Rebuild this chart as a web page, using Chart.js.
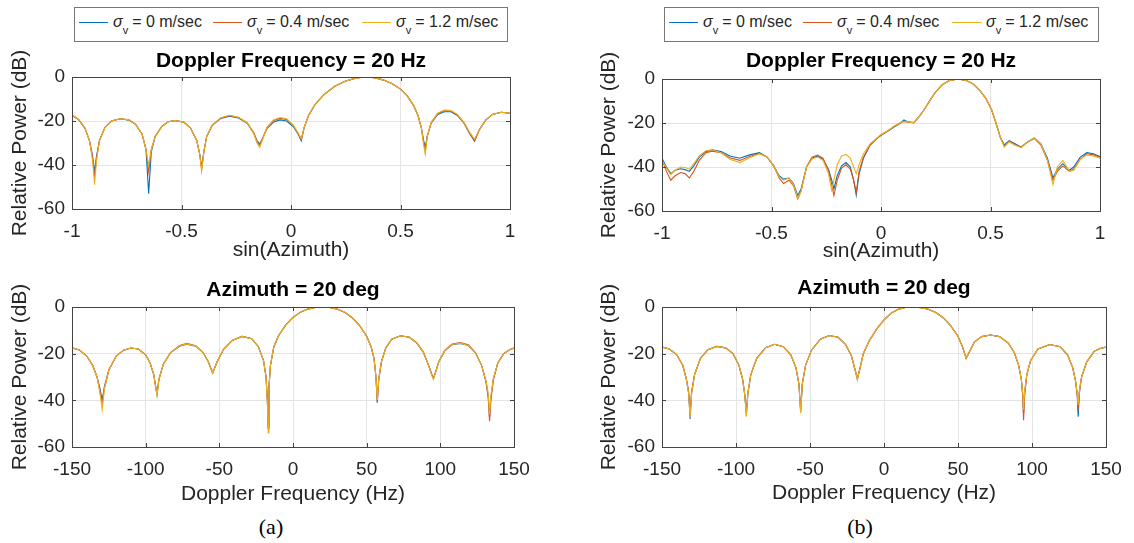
<!DOCTYPE html>
<html>
<head>
<meta charset="utf-8">
<script src="https://cdn.jsdelivr.net/npm/chart.js@4.4.1/dist/chart.umd.min.js"></script>
<style>
  body { margin: 0; width: 1134px; height: 543px; background: #fff; position: relative; overflow: hidden;
         font-family: 'Liberation Sans', Arial, sans-serif; }
  canvas { position: absolute; }
  .legend { position: absolute; height: 35px; border: 1px solid #777; box-sizing: border-box; background: #fff;
            font-size: 16px; color: #262626; }
  .legend .item { position: absolute; top: 0; height: 100%; white-space: nowrap; }
  .legend .swatch { position: absolute; left: 0; top: 14px; width: 29px; height: 0; border-top: 1px solid; }
  .legend .txt { position: absolute; left: 34px; top: 6px; line-height: 1; }
  .legend .txt sub { font-size: 11px; vertical-align: -7px; line-height: 0; margin-right: 4px; }
  .caption { position: absolute; font-family: 'Liberation Serif', 'Times New Roman', serif; font-size: 22px;
             color: #000; transform: translateX(-50%); line-height: 26px; }
</style>
</head>
<body>
<canvas id="azA" width="560" height="225" style="left:0;top:40px"></canvas>
<canvas id="dopA" width="560" height="240" style="left:0;top:270px"></canvas>
<canvas id="azB" width="567" height="225" style="left:567px;top:40px"></canvas>
<canvas id="dopB" width="567" height="240" style="left:567px;top:270px"></canvas>
<div class="caption" style="left:271px;top:514px">(a)</div>
<div class="caption" style="left:860px;top:514px">(b)</div>
<script>
// axis ticks
const AZ_TICKS = [-1, -0.5, 0, 0.5, 1];
const DOP_TICKS = [-150, -100, -50, 0, 50, 100, 150];
const POWER_TICKS = [-60, -40, -20, 0];

// series: velocity spread sigma_v (m/sec)
const SIGMA_V = ['0', '0.4', '1.2'];
const SERIES_COLORS = ['#0072BD', '#D95319', '#EDB120'];

// (a) Doppler = 20 Hz, power vs sin(azimuth)
const SIN_AZ_A = [-1.00, -0.97, -0.94, -0.92, -0.906, -0.897, -0.888, -0.875, -0.85, -0.82,
  -0.78, -0.74, -0.71, -0.68, -0.662, -0.65, -0.638, -0.62, -0.59, -0.56,
  -0.53, -0.49, -0.46, -0.43, -0.417, -0.408, -0.398, -0.385, -0.36, -0.32,
  -0.28, -0.24, -0.2, -0.17, -0.155, -0.143, -0.13, -0.11, -0.08, -0.05,
  -0.02, 0.01, 0.03, 0.047, 0.06, 0.08, 0.11, 0.15, 0.2, 0.25,
  0.3, 0.34, 0.38, 0.42, 0.46, 0.5, 0.53, 0.56, 0.58, 0.595,
  0.606, 0.613, 0.622, 0.64, 0.67, 0.7, 0.73, 0.76, 0.79, 0.815,
  0.838, 0.86, 0.89, 0.92, 0.96, 1.0];
const AZ_A_S0 = [-17.4, -19.4, -23.5, -29, -36, -43, -36, -29, -23, -20,
  -19, -19.6, -21.5, -26, -33, -53, -34, -27, -22.5, -20.3,
  -19.8, -20.5, -23, -29, -35, -41, -34, -27, -22, -18.8,
  -17.8, -18.6, -21, -25.5, -29, -30.5, -28, -23.5, -20.5, -19.5,
  -20, -22.5, -25.5, -29, -23, -17.5, -12.5, -8, -4.2, -1.8,
  -0.4, 0, -0.3, -1.3, -3, -5.5, -8.5, -13, -17.5, -23,
  -29, -32, -27, -21, -17, -15.8, -15.8, -17.5, -21, -25.5,
  -29.2, -24, -19.5, -17, -16, -16.5];
const AZ_A_S04 = [-17.2, -19.3, -23.3, -29, -37, -45, -37, -29, -23, -20,
  -19, -19.5, -21.4, -26, -33, -43, -33, -27, -22.5, -20.3,
  -19.8, -20.5, -23, -29, -35, -42, -34, -27, -22, -18.6,
  -17.5, -18.4, -20.8, -25.5, -29.5, -31, -28, -23, -19.8, -18.8,
  -19.3, -22, -25.2, -28.5, -23, -17.5, -12.5, -8, -4.2, -1.8,
  -0.4, 0, -0.3, -1.3, -3, -5.5, -8.5, -13, -17.5, -23,
  -30, -34, -27, -20.8, -16.6, -15.3, -15.4, -17.2, -20.8, -25.3,
  -28.8, -24, -19.5, -17, -16, -16.5];
const AZ_A_S12 = [-17.2, -19.3, -23.3, -29, -38, -49, -38, -29, -23, -20,
  -19, -19.5, -21.4, -26, -33, -40, -33, -27, -22.5, -20.3,
  -19.8, -20.5, -23, -29, -35, -43, -34, -27, -21.8, -18.5,
  -17.4, -18.3, -20.8, -25.8, -30, -32, -28.5, -23, -19.5, -18.4,
  -19, -21.8, -25, -28, -23, -17.5, -12.5, -8, -4.2, -1.8,
  -0.4, 0, -0.3, -1.3, -3, -5.5, -8.5, -13, -17.5, -23,
  -31, -35, -27, -20.6, -16.4, -15, -15.2, -17, -20.6, -25,
  -28.3, -24, -19.5, -17, -16, -16.5];

// (a) Azimuth = 20 deg, power vs Doppler frequency (Hz)
const DOP_A = [-150, -145, -140, -136, -133, -131, -129.5, -128, -125, -120,
  -115, -110, -105, -100, -97, -94.5, -93, -92.3, -91, -88,
  -83, -77, -72, -66, -61, -57.5, -54.5, -51.5, -47, -41,
  -34.5, -28, -23.5, -20, -18.3, -17.4, -16.9, -16.3, -15.3, -13,
  -10, -5, 0, 5, 10, 15, 20, 25, 30, 35,
  40, 45, 50, 53, 55, 56.3, 57.2, 58.2, 60, 63,
  67, 73, 79, 84, 88.5, 92, 94.2, 95.3, 96.5, 99,
  103, 108, 113.5, 119, 124, 128, 131, 132.5, 133.4, 134.3,
  136, 139, 143, 147, 150];
const DOP_A_S0 = [-17.5, -18.4, -21, -25, -30, -35, -40, -34, -27, -21,
  -18.5, -17.6, -18, -20.5, -24, -29, -35, -37.5, -31, -24.5,
  -19.5, -16.8, -16, -16.8, -19.5, -23.5, -28.4, -23.5, -18, -14.2,
  -12.6, -13.6, -17, -23, -30, -40, -52, -34, -25, -17,
  -12.5, -7.8, -4.5, -2.2, -0.9, -0.2, 0, -0.2, -0.9, -2.2,
  -4.5, -7.8, -12.5, -17, -22, -30, -41, -31, -23.5, -17.5,
  -13.8, -12.3, -13, -15.5, -19.5, -25, -29, -30.8, -28.5, -23.5,
  -18.8, -16.2, -15.6, -16.5, -19.8, -25, -32, -38, -47, -39,
  -31, -24, -20, -18.3, -17.6];
const DOP_A_S04 = [-17.5, -18.4, -21, -25, -30, -36, -41, -35, -27, -21,
  -18.5, -17.6, -18, -20.5, -24, -29, -35, -37, -31, -24.5,
  -19.5, -16.5, -15.6, -16.6, -19.5, -23.5, -28.2, -23.5, -18, -14.2,
  -12.6, -13.6, -17, -23, -30, -40, -51, -34, -25, -17,
  -12.5, -7.8, -4.5, -2.2, -0.9, -0.2, 0, -0.2, -0.9, -2.2,
  -4.5, -7.8, -12.5, -17, -22, -30, -40.5, -31, -23.5, -17.5,
  -13.8, -12.3, -13, -15.3, -19.3, -24.8, -28.8, -30.5, -28.3, -23.3,
  -18.6, -15.9, -15.2, -16.2, -19.6, -25, -32, -39, -49, -40,
  -31, -24, -20, -18.3, -17.6];
const DOP_A_S12 = [-17.5, -18.4, -21, -25, -30, -37, -44, -35, -27, -21,
  -18.5, -17.6, -18, -20.5, -24, -29, -35, -38, -31, -24.5,
  -19.5, -16.6, -15.8, -16.7, -19.5, -23.5, -28.4, -23.5, -18, -14.2,
  -12.6, -13.6, -17, -23, -30, -41, -54, -35, -25, -17,
  -12.5, -7.8, -4.5, -2.2, -0.9, -0.2, 0, -0.2, -0.9, -2.2,
  -4.5, -7.8, -12.5, -17, -22, -30, -40, -31, -23.5, -17.5,
  -13.8, -12.3, -13, -15.5, -19.5, -25, -29.3, -31, -28.6, -23.5,
  -18.8, -16.1, -15.5, -16.5, -19.8, -25, -31.5, -37, -46, -38,
  -30.5, -24, -20, -18.3, -17.6];

// (b) Doppler = 20 Hz, power vs sin(azimuth)
const SIN_AZ_B = [-1.0, -0.98, -0.96, -0.94, -0.915, -0.895, -0.875, -0.855, -0.83, -0.8,
  -0.77, -0.73, -0.69, -0.645, -0.6, -0.555, -0.52, -0.49, -0.465, -0.445,
  -0.42, -0.4, -0.38, -0.365, -0.34, -0.315, -0.29, -0.265, -0.24, -0.225,
  -0.215, -0.2, -0.18, -0.16, -0.14, -0.125, -0.113, -0.1, -0.08, -0.05,
  -0.02, 0.0, 0.03, 0.06, 0.09, 0.105, 0.125, 0.15, 0.175, 0.2,
  0.225, 0.25, 0.28, 0.31, 0.35, 0.39, 0.42, 0.45, 0.48, 0.505,
  0.525, 0.545, 0.563, 0.585, 0.61, 0.64, 0.67, 0.7, 0.73, 0.76,
  0.785, 0.805, 0.83, 0.86, 0.88, 0.91, 0.94, 0.97, 1.0];
const AZ_B_S0 = [-36, -40, -43, -41.5, -40.8, -41.2, -42, -39.5, -35.5, -33,
  -32.2, -33, -35, -36, -34.5, -33.5, -35.5, -39.5, -44, -45.5,
  -45, -47.5, -53, -50, -40, -36, -35, -36.5, -41, -46,
  -50, -44, -39.5, -38, -40, -46, -52.8, -43, -36, -30,
  -27.2, -25.6, -23.8, -21.8, -20, -18.6, -19.6, -19.8, -17, -13.5,
  -9.5, -5.8, -2.6, -0.8, 0, -0.7, -2.2, -5, -9, -14,
  -20, -26.5, -30, -28, -29.3, -31, -28.5, -26.8, -29.5, -36,
  -45, -41, -38.5, -41.5, -40, -35.5, -33.5, -34, -35.3];
const AZ_B_S04 = [-36.5, -42, -46, -44, -42.5, -43, -45, -42, -37, -33.5,
  -32.8, -33.5, -35.8, -37, -35.2, -33.8, -35.5, -39.5, -45, -47.5,
  -46, -48.5, -54.5, -51, -40, -35.5, -34.6, -36, -41.5, -48,
  -53, -46, -40.5, -39, -41, -46, -51.5, -42, -35.5, -30,
  -27, -25.5, -23.6, -21.5, -19.8, -19.3, -19.6, -19.8, -17, -13.5,
  -9.5, -5.8, -2.6, -0.8, 0, -0.7, -2.2, -5, -9, -14,
  -20, -26.5, -30.5, -28.3, -29.8, -31, -28.7, -27, -30, -37,
  -46, -42, -39.5, -42, -41, -36.5, -34, -34.5, -35.6];
const AZ_B_S12 = [-37, -40.5, -43.5, -41.5, -40, -40.2, -41, -38.5, -35, -32.6,
  -32.2, -33.5, -36.5, -38, -35.8, -34, -35.5, -39.5, -44.5, -46,
  -45, -48, -54, -51, -40, -36.3, -35.5, -37, -43, -50.5,
  -46, -39, -35, -34.3, -36, -40, -43, -39, -34, -29.5,
  -27, -25.2, -23.5, -21.5, -19.8, -19.3, -19.6, -19.8, -17, -13.5,
  -9.5, -5.8, -2.6, -0.8, 0, -0.7, -2.2, -5, -9, -14,
  -20, -26.5, -31, -28.6, -30, -31.2, -28.6, -26.8, -29.5, -37,
  -48, -40, -37, -42, -41.5, -36.5, -34.5, -35, -36];

// (b) Azimuth = 20 deg, power vs Doppler frequency (Hz)
const DOP_B = [-150, -145, -140, -136, -133.5, -132, -131, -130, -128, -124,
  -119, -113, -107, -102, -98, -95.5, -94, -93, -92, -90,
  -86, -80, -74, -68, -63, -59.5, -57.5, -56.3, -55.2, -53,
  -49, -43, -37, -31, -26, -22, -19.5, -18, -16.5, -14,
  -10, -5, 0, 5, 10, 15, 20, 25, 30, 35,
  40, 45, 50, 53, 55.5, 57.5, 61, 66, 72, 78,
  84, 88, 91, 92.8, 93.8, 94.3, 95, 96.5, 99, 104,
  112, 119, 124, 127.5, 129.5, 130.6, 131.2, 132, 133.5, 137,
  142, 146, 150];
const DOP_B_S0 = [-17.2, -18, -20.5, -25, -31, -37, -48, -37, -29, -22,
  -18.3, -16.9, -17.5, -20, -25, -31, -38, -46.5, -37, -29,
  -22, -17.5, -16, -17, -20.5, -26, -33, -45, -33, -25,
  -18.5, -13.8, -12.2, -13, -16, -21, -27, -31, -27, -20,
  -14.5, -9.5, -5.5, -2.6, -0.9, -0.1, 0, -0.3, -1, -2.4,
  -4.6, -8, -12.5, -17, -22, -19.5, -15, -12.7, -12, -12.7,
  -15.5, -19.5, -25, -31, -38, -46, -37, -29, -23, -18,
  -16.1, -17, -20.5, -26, -32, -38, -47, -37, -30, -23.5,
  -19, -17.8, -17.2];
const DOP_B_S04 = [-17.2, -18, -20.5, -25, -31, -36, -46, -36, -29, -22,
  -18.3, -16.9, -17.5, -20, -25, -31, -38, -45, -37, -29,
  -22, -17.5, -16, -17, -20.5, -26, -33, -44, -33, -25,
  -18.5, -13.8, -12.2, -13, -16, -21, -27, -30.5, -27, -20,
  -14.5, -9.5, -5.5, -2.6, -0.9, -0.1, 0, -0.3, -1, -2.4,
  -4.6, -8, -12.5, -17, -22, -19.5, -15, -12.7, -12, -12.7,
  -15.5, -19.5, -25, -31, -39, -48.5, -38, -29, -23, -18,
  -16.1, -17, -20.5, -26, -32, -38, -44, -36, -30, -23.5,
  -19, -17.8, -17.2];
const DOP_B_S12 = [-17.2, -18, -20.5, -25, -31, -37, -47.5, -37, -29, -22,
  -18.3, -16.9, -17.5, -20, -25, -31, -38, -47, -37, -29,
  -22, -17.5, -16, -17, -20.5, -26, -33, -45.5, -33, -25,
  -18.5, -13.8, -12.2, -13, -16, -21, -27, -31, -27, -20,
  -14.5, -9.5, -5.5, -2.6, -0.9, -0.1, 0, -0.3, -1, -2.4,
  -4.6, -8, -12.5, -17, -22, -19.5, -15, -12.7, -12, -12.7,
  -15.5, -19.5, -25, -31, -37, -44, -36, -29, -23, -18,
  -16.1, -17, -20.5, -26, -32, -37, -42, -36, -30, -23.5,
  -19, -17.8, -17.2];

(function() {
  const FONT = "'Liberation Sans', Arial, sans-serif";
  const TEXT_GRAY = '#262626';
  const TITLE_SIZE = 21;

  // Plugin: MATLAB style box around the axes with inward tick marks
  const axesBox = {
    id: 'axesBox',
    afterDatasetsDraw(chart) {
      const { ctx, chartArea: a, scales } = chart;
      const len = 4;
      ctx.save();
      ctx.strokeStyle = '#444';
      ctx.lineWidth = 1;
      ctx.beginPath();
      scales.x.ticks.forEach(t => {
        const px = Math.round(scales.x.getPixelForValue(t.value)) + 0.5;
        ctx.moveTo(px, a.bottom); ctx.lineTo(px, a.bottom - len);
        ctx.moveTo(px, a.top); ctx.lineTo(px, a.top + len);
      });
      scales.y.ticks.forEach(t => {
        const py = Math.round(scales.y.getPixelForValue(t.value)) + 0.5;
        ctx.moveTo(a.left, py); ctx.lineTo(a.left + len, py);
        ctx.moveTo(a.right, py); ctx.lineTo(a.right - len, py);
      });
      ctx.stroke();
      ctx.strokeRect(Math.round(a.left) + 0.5, Math.round(a.top) + 0.5,
        Math.round(a.right - a.left), Math.round(a.bottom - a.top));
      ctx.restore();
    }
  };

  // Function: build one panel so that its axes land on the given page box
  const makePanel = (cfg) => {
    const canvas = document.getElementById(cfg.id);
    if (!canvas) {
      console.error('panel: canvas not found', cfg.id);
      return;
    }
    const cLeft = parseFloat(canvas.style.left);
    const cTop = parseFloat(canvas.style.top);
    const cW = canvas.width, cH = canvas.height;
    const p = cfg.plot;
    const yWidth = p.l - cLeft;
    const xHeight = cTop + cH - p.b;
    const titleBlock = p.t - cTop;
    const titleLH = TITLE_SIZE * 1.2;
    const titlePadTop = cfg.titleTop - cTop - titleLH / 2;

    const datasets = cfg.series.map((ys, i) => ({
      label: 'σv = ' + SIGMA_V[i] + ' m/sec',
      data: cfg.xs.map((x, k) => ({ x: x, y: ys[k] })),
      borderColor: SERIES_COLORS[i],
      backgroundColor: SERIES_COLORS[i],
      borderWidth: 1.1,
      pointRadius: 0,
      showLine: true,
      tension: 0,
      order: cfg.series.length - i
    }));

    new Chart(canvas, {
      type: 'scatter',
      data: { datasets: datasets },
      options: {
        responsive: false,
        animation: false,
        events: [],
        layout: { padding: { left: 0, top: 0, right: cLeft + cW - p.r, bottom: 0 } },
        plugins: {
          legend: { display: false },
          tooltip: { enabled: false },
          title: {
            display: true,
            text: cfg.title,
            fullSize: false,
            color: '#000',
            font: { family: FONT, size: TITLE_SIZE, weight: 'bold', lineHeight: 1.2 },
            padding: { top: titlePadTop, bottom: titleBlock - titleLH - titlePadTop }
          }
        },
        scales: {
          x: {
            type: 'linear',
            min: cfg.xTicks[0],
            max: cfg.xTicks[cfg.xTicks.length - 1],
            afterBuildTicks: s => { s.ticks = cfg.xTicks.map(v => ({ value: v })); },
            afterFit: s => { s.height = xHeight; s.paddingLeft = 0; s.paddingRight = 0; },
            grid: { color: '#e4e4e4', lineWidth: 1, drawTicks: false },
            border: { display: false },
            ticks: {
              autoSkip: false, maxRotation: 0, padding: 11, color: TEXT_GRAY,
              font: { family: FONT, size: 19 },
              callback: v => String(v)
            },
            title: {
              display: true, text: cfg.xLabel, color: TEXT_GRAY,
              font: { family: FONT, size: 21, lineHeight: 1.2 },
              padding: { top: 0, bottom: cTop + cH - cfg.xLabelY - 12.6 }
            }
          },
          y: {
            type: 'linear',
            min: POWER_TICKS[0],
            max: POWER_TICKS[POWER_TICKS.length - 1],
            afterBuildTicks: s => { s.ticks = POWER_TICKS.map(v => ({ value: v })); },
            afterFit: s => { s.width = yWidth; s.paddingTop = 0; s.paddingBottom = 0; },
            grid: { color: '#e4e4e4', lineWidth: 1, drawTicks: false },
            border: { display: false },
            ticks: {
              padding: 7, color: TEXT_GRAY,
              font: { family: FONT, size: 19 },
              callback: v => String(v)
            },
            title: {
              display: true, text: 'Relative Power (dB)', color: TEXT_GRAY,
              font: { family: FONT, size: 21, lineHeight: 1.2 },
              padding: { top: cfg.yLabelX - cLeft - 12.6, bottom: 0 }
            }
          }
        }
      },
      plugins: [axesBox]
    });
  };

  // Function: HTML legend box with sigma_v subscripts
  const makeLegend = (left, top, width) => {
    const box = document.createElement('div');
    box.className = 'legend';
    box.style.left = left + 'px';
    box.style.top = top + 'px';
    box.style.width = width + 'px';
    const offsets = [4, 138, 287];
    SIGMA_V.forEach((v, i) => {
      const item = document.createElement('span');
      item.className = 'item';
      item.style.left = offsets[i] + 'px';
      item.innerHTML = '<span class="swatch" style="border-color:' + SERIES_COLORS[i] + '"></span>' +
        '<span class="txt"><i>σ</i><sub>v</sub>= ' + v + ' m/sec</span>';
      box.appendChild(item);
    });
    document.body.appendChild(box);
  };

  makePanel({
    id: 'azA', title: 'Doppler Frequency = 20 Hz', titleTop: 61,
    xLabel: 'sin(Azimuth)', xLabelY: 250, yLabelX: 20,
    xTicks: AZ_TICKS, xs: SIN_AZ_A, series: [AZ_A_S0, AZ_A_S04, AZ_A_S12],
    plot: { l: 72, t: 77, r: 510, b: 209 }
  });
  makePanel({
    id: 'dopA', title: 'Azimuth = 20 deg', titleTop: 290,
    xLabel: 'Doppler Frequency (Hz)', xLabelY: 494, yLabelX: 20,
    xTicks: DOP_TICKS, xs: DOP_A, series: [DOP_A_S0, DOP_A_S04, DOP_A_S12],
    plot: { l: 72, t: 307, r: 514, b: 447 }
  });
  makePanel({
    id: 'azB', title: 'Doppler Frequency = 20 Hz', titleTop: 61,
    xLabel: 'sin(Azimuth)', xLabelY: 251, yLabelX: 609,
    xTicks: AZ_TICKS, xs: SIN_AZ_B, series: [AZ_B_S0, AZ_B_S04, AZ_B_S12],
    plot: { l: 662, t: 79, r: 1100, b: 211 }
  });
  makePanel({
    id: 'dopB', title: 'Azimuth = 20 deg', titleTop: 288,
    xLabel: 'Doppler Frequency (Hz)', xLabelY: 493, yLabelX: 609,
    xTicks: DOP_TICKS, xs: DOP_B, series: [DOP_B_S0, DOP_B_S04, DOP_B_S12],
    plot: { l: 662, t: 307, r: 1106, b: 447 }
  });

  makeLegend(74, 7, 434);
  makeLegend(664, 7, 435);
})();
</script>
</body>
</html>
